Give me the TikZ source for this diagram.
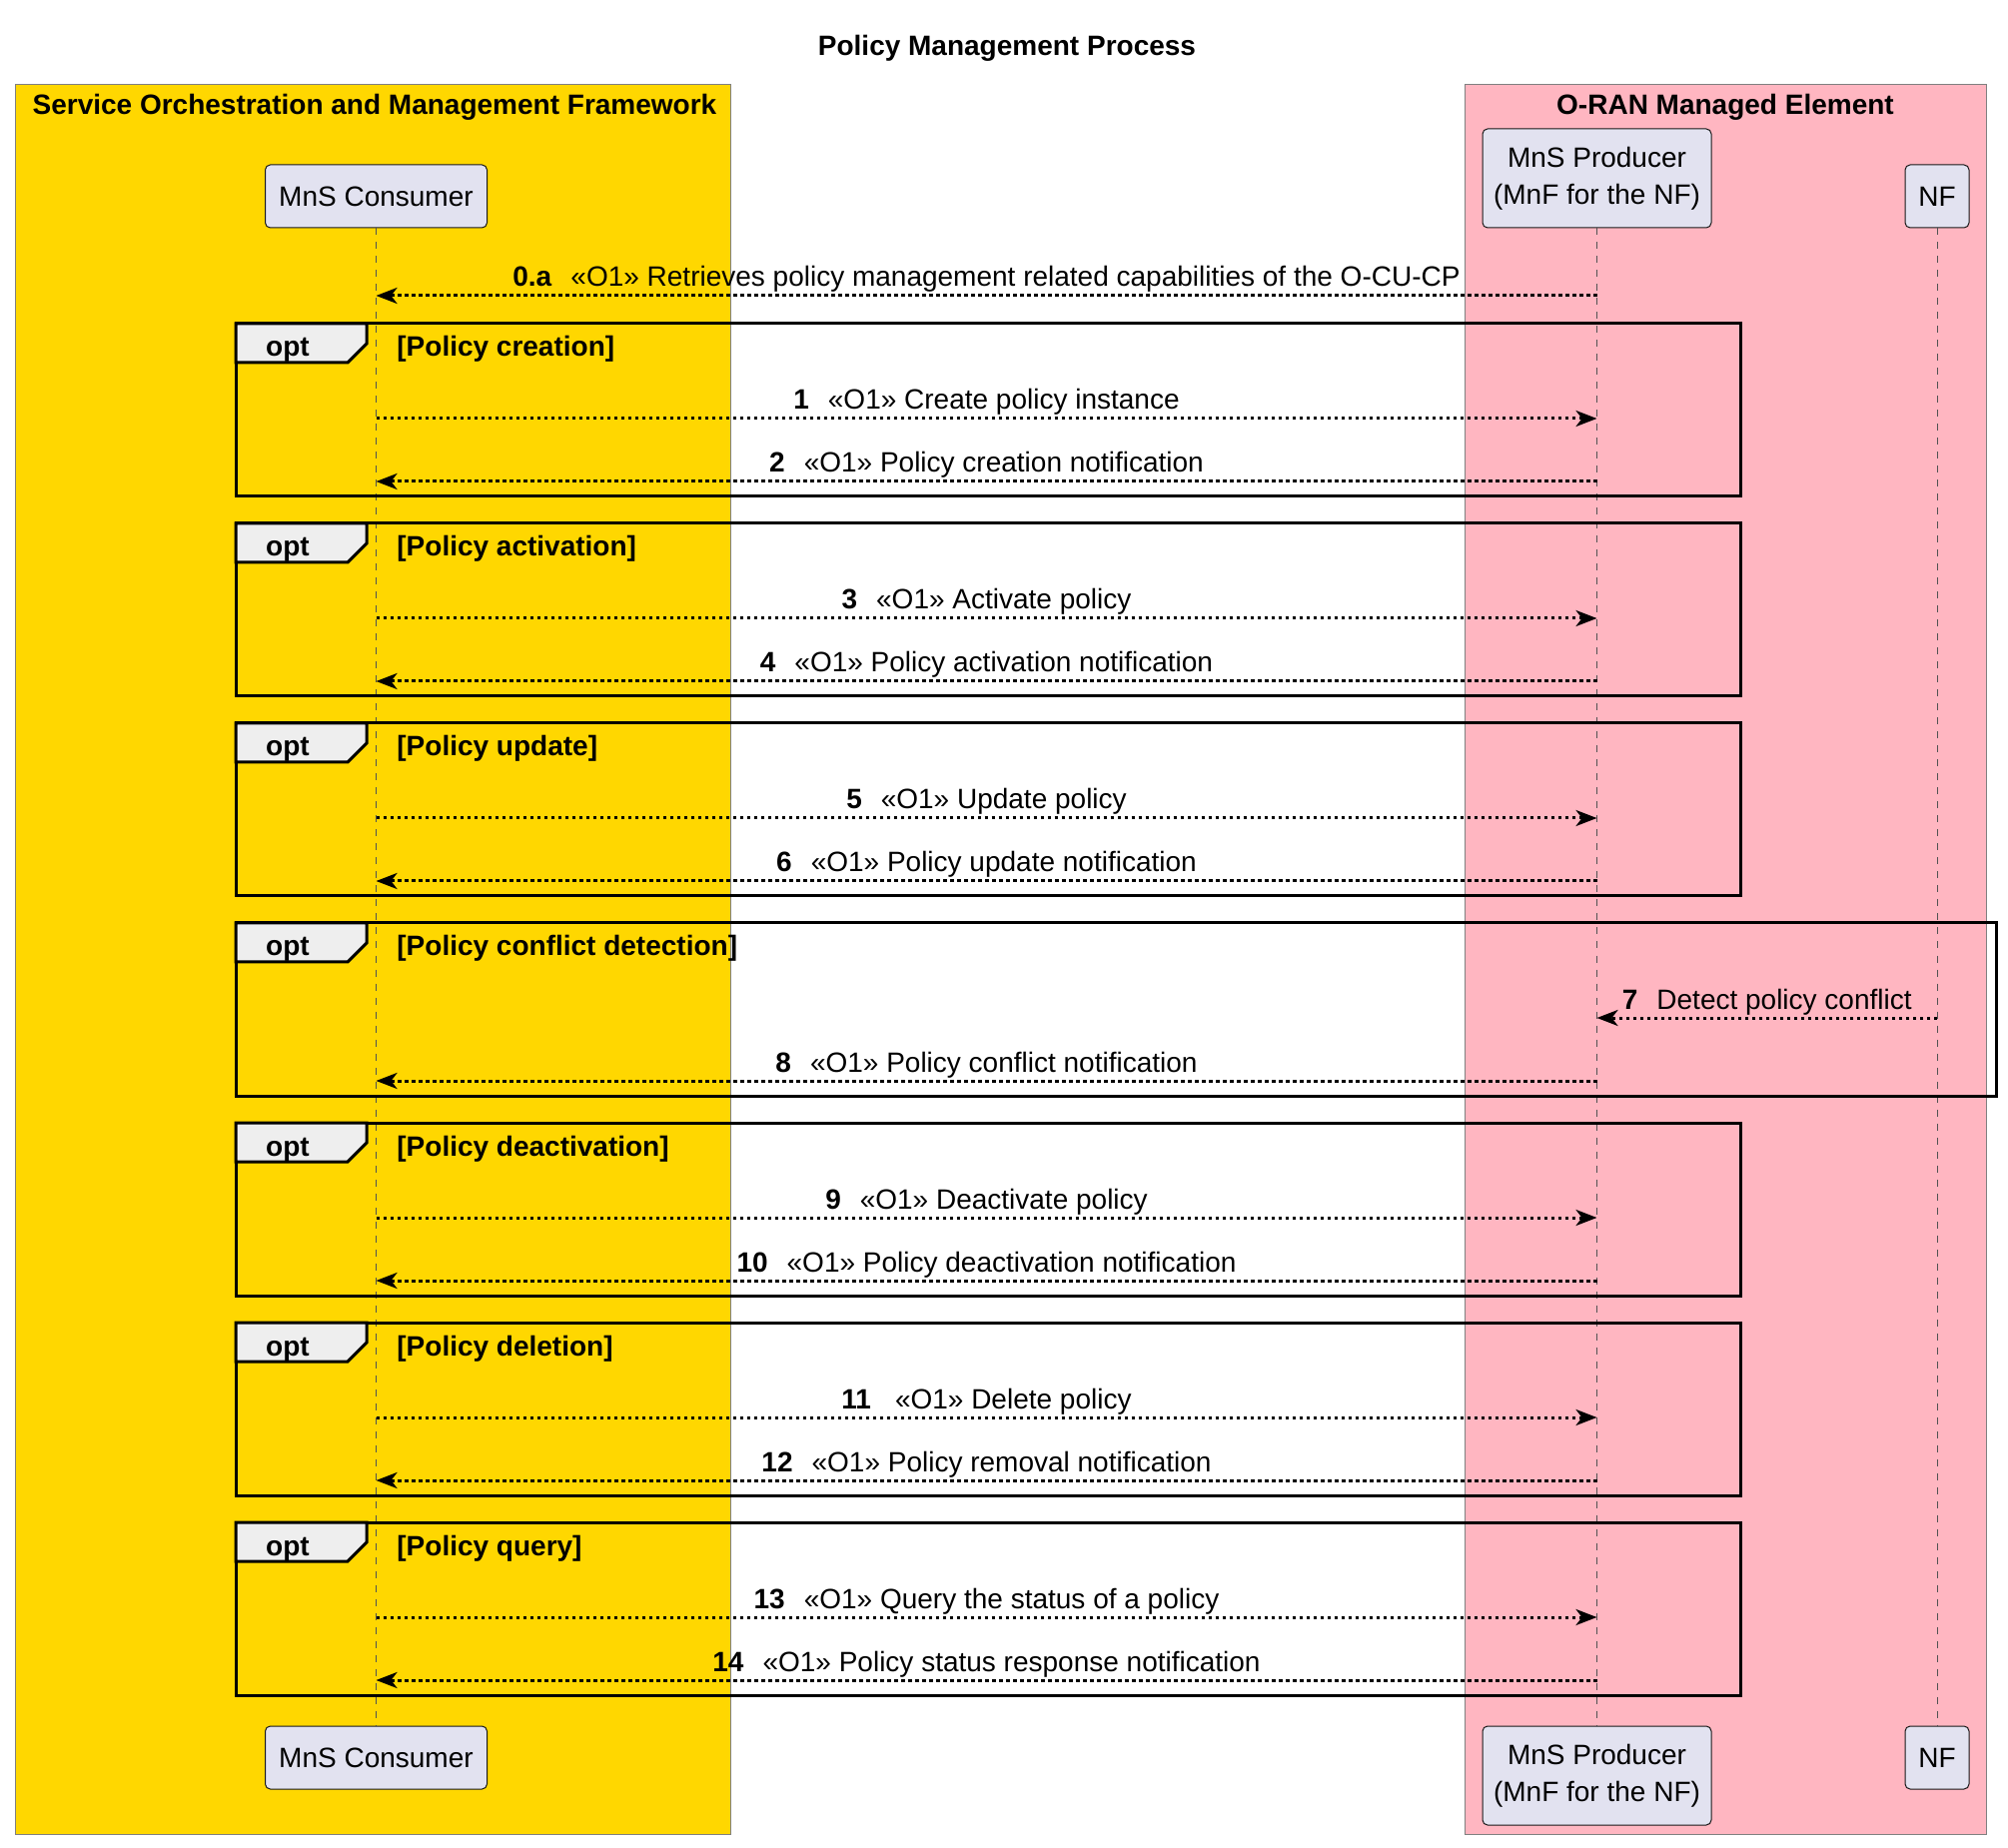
\documentclass[tikz,border=0pt]{standalone}
\usepackage{fontspec}
\setmainfont{Liberation Sans}
\usetikzlibrary{arrows.meta}
\definecolor{sgold}{HTML}{FFD700}
\definecolor{spink}{HTML}{FFB6C1}
\definecolor{partfill}{HTML}{E2E2F0}
\definecolor{tabfill}{HTML}{EEEEEE}
\definecolor{dark}{HTML}{181818}
\newcommand\fs{\fontsize{14}{16.8}\selectfont}
\newcommand\num[1]{\textbf{#1}\hspace{9.5pt}}
% #1 name, #2 top y, #3 right x, #4 guard text
\newcommand\optframe[4]{%
  \draw[frm] (236,#2) rectangle (#3,#2+173);
  \draw[tabshape] (236,#2) -- (367,#2) -- (367,#2+20) -- (348,#2+39) -- (236,#2+39) -- cycle;
  \node[optlbl] (#1opt) at (288,#2+33) {opt};
  \node[guard] (#1guard) at (397,#2+33) {[#4]};
}
\begin{document}
\begin{tikzpicture}[x=0.5pt,y=-0.5pt,
  grp/.style={draw=black!50, line width=0.5pt},
  part/.style={draw=dark, fill=partfill, rounded corners=2.5pt, line width=0.5pt, inner sep=0pt, align=center, font=\fontsize{14}{18.3}\selectfont},
  life/.style={draw=dark!75, line width=0.5pt, dash pattern=on 3.5pt off 3.5pt},
  frm/.style={draw=black, line width=1.5pt},
  tabshape/.style={draw=black, fill=tabfill, line width=1.5pt, line join=miter},
  optlbl/.style={anchor=base, inner sep=0pt, font=\fs\bfseries},
  guard/.style={anchor=base west, inner sep=0pt, font=\fs\bfseries},
  msg/.style={line width=1.5pt, dash pattern=on 1.6pt off 1.9pt, -{Stealth[length=10.5pt,width=8pt,inset=3pt]}},
  lbl/.style={anchor=base, inner sep=0pt, yshift=4.5pt, font=\fs},
  gtitle/.style={anchor=base, inner sep=0pt, font=\fs\bfseries},
]
\useasboundingbox (0,0) rectangle (2010,1850);
\fill[white] (0,0) rectangle (2010,1850);

% boxes of the two groups
\draw[grp, fill=sgold] (15,85) rectangle (731,1836);
\draw[grp, fill=spink] (1466,85) rectangle (1988,1836);
\node[gtitle] (smoT) at (375,115) {Service Orchestration and Management Framework};
\node[gtitle] (oranT) at (1727,115) {O-RAN Managed Element};

% title
\node[inner sep=0pt, font=\fs\bfseries] (title) at (1008,48) {Policy Management Process};

% participants
\node[part, minimum width=111pt, minimum height=31.5pt] (ct) at (376.5,196.5) {MnS Consumer};
\node[part, minimum width=114.5pt, minimum height=49.5pt] (pt) at (1598.5,178.5) {MnS Producer\\(MnF for the NF)};
\node[part, minimum width=32pt, minimum height=31.5pt] (nt) at (1939,196.5) {NF};
\node[part, minimum width=111pt, minimum height=31.5pt] (cb) at (376.5,1759.5) {MnS Consumer};
\node[part, minimum width=114.5pt, minimum height=49.5pt] (pb) at (1598.5,1777.5) {MnS Producer\\(MnF for the NF)};
\node[part, minimum width=32pt, minimum height=31.5pt] (nb) at (1939,1759.5) {NF};

% lifelines
\draw[life] (ct.south) -- (cb.north);
\draw[life] (pt.south) -- (pb.north);
\draw[life] (nt.south) -- (nb.north);

% frames
\optframe{f1}{324}{1742}{Policy creation}
\optframe{f2}{524}{1742}{Policy activation}
\optframe{f3}{724}{1742}{Policy update}
\optframe{f4}{924}{1998}{Policy conflict detection}
\optframe{f5}{1124}{1742}{Policy deactivation}
\optframe{f6}{1324}{1742}{Policy deletion}
\optframe{f7}{1524}{1742}{Policy query}

% messages
\draw[msg] (pt.south |- 0,296) -- (ct.south |- 0,296) node[lbl, midway] {\num{0.a}«O1» Retrieves policy management related capabilities of the O-CU-CP};
\draw[msg] (ct.south |- 0,419) -- (pt.south |- 0,419) node[lbl, midway] {\num{1}«O1» Create policy instance};
\draw[msg] (pt.south |- 0,482) -- (ct.south |- 0,482) node[lbl, midway] {\num{2}«O1» Policy creation notification};
\draw[msg] (ct.south |- 0,619) -- (pt.south |- 0,619) node[lbl, midway] {\num{3}«O1» Activate policy};
\draw[msg] (pt.south |- 0,682) -- (ct.south |- 0,682) node[lbl, midway] {\num{4}«O1» Policy activation notification};
\draw[msg] (ct.south |- 0,819) -- (pt.south |- 0,819) node[lbl, midway] {\num{5}«O1» Update policy};
\draw[msg] (pt.south |- 0,882) -- (ct.south |- 0,882) node[lbl, midway] {\num{6}«O1» Policy update notification};
\draw[msg] (nt.south |- 0,1019) -- (pt.south |- 0,1019) node[lbl, midway] {\num{7}Detect policy conflict};
\draw[msg] (pt.south |- 0,1082) -- (ct.south |- 0,1082) node[lbl, midway] {\num{8}«O1» Policy conflict notification};
\draw[msg] (ct.south |- 0,1219) -- (pt.south |- 0,1219) node[lbl, midway] {\num{9}«O1» Deactivate policy};
\draw[msg] (pt.south |- 0,1282) -- (ct.south |- 0,1282) node[lbl, midway] {\num{10}«O1» Policy deactivation notification};
\draw[msg] (ct.south |- 0,1419) -- (pt.south |- 0,1419) node[lbl, midway] {\textbf{11}\hspace{12pt}«O1» Delete policy};
\draw[msg] (pt.south |- 0,1482) -- (ct.south |- 0,1482) node[lbl, midway] {\num{12}«O1» Policy removal notification};
\draw[msg] (ct.south |- 0,1619) -- (pt.south |- 0,1619) node[lbl, midway] {\num{13}«O1» Query the status of a policy};
\draw[msg] (pt.south |- 0,1682) -- (ct.south |- 0,1682) node[lbl, midway] {\num{14}«O1» Policy status response notification};
\end{tikzpicture}
\end{document}
